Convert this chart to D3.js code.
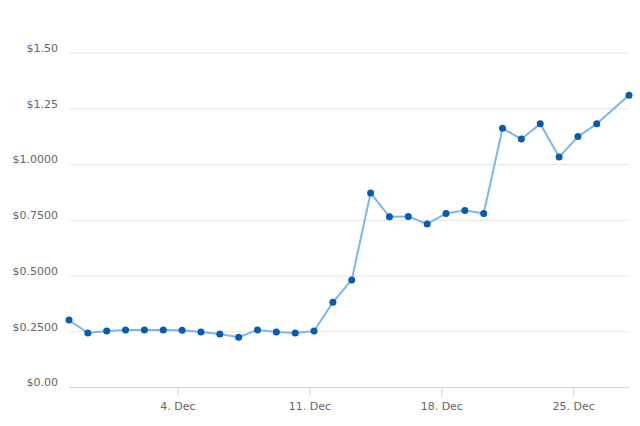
<!DOCTYPE html>
<html>
<head>
<meta charset="utf-8">
<script src="https://cdn.jsdelivr.net/npm/d3@7"></script>
<style>
  html, body { margin: 0; padding: 0; background: #fff; }
  svg { display: block; }
  .tick text { font-family: "DejaVu Sans", sans-serif; font-size: 11px; fill: #666; }
</style>
</head>
<body>
<svg id="chart"></svg>
<script>
// data
var dates = [
  "2017-11-28T06:00", "2017-11-29T06:00", "2017-11-30T06:00", "2017-12-01T06:00",
  "2017-12-02T06:00", "2017-12-03T06:00", "2017-12-04T06:00", "2017-12-05T06:00",
  "2017-12-06T06:00", "2017-12-07T06:00", "2017-12-08T06:00", "2017-12-09T06:00",
  "2017-12-10T06:00", "2017-12-11T06:00", "2017-12-12T06:00", "2017-12-13T06:00",
  "2017-12-14T06:00", "2017-12-15T06:00", "2017-12-16T06:00", "2017-12-17T06:00",
  "2017-12-18T06:00", "2017-12-19T06:00", "2017-12-20T06:00", "2017-12-21T06:00",
  "2017-12-22T06:00", "2017-12-23T06:00", "2017-12-24T06:00", "2017-12-25T06:00",
  "2017-12-26T06:00", "2017-12-27T23:00"
];
var prices = [
  0.300, 0.242, 0.251, 0.256, 0.256, 0.256, 0.255, 0.247,
  0.238, 0.223, 0.256, 0.247, 0.242, 0.251, 0.380, 0.480,
  0.870, 0.763, 0.765, 0.731, 0.778, 0.792, 0.778, 1.160,
  1.112, 1.180, 1.031, 1.123, 1.180, 1.308
];
var yTicks = [0, 0.25, 0.5, 0.75, 1.0, 1.25, 1.5];
var yTickLabels = ["$0.00", "$0.2500", "$0.5000", "$0.7500", "$1.0000", "$1.25", "$1.50"];
var xTicks = ["2017-12-04", "2017-12-11", "2017-12-18", "2017-12-25"];
var xTickLabels = ["4. Dec", "11. Dec", "18. Dec", "25. Dec"];

var W = 640, H = 426;
var margin = {top: 52.5, right: 11, bottom: 39, left: 69},
    width = W - margin.left - margin.right,
    height = H - margin.top - margin.bottom;

var parse = d3.timeParse("%Y-%m-%dT%H:%M");
var parseDay = d3.timeParse("%Y-%m-%d");
var data = dates.map(function(d, i) { return {date: parse(d), value: prices[i]}; });

var svg = d3.select("#chart")
    .attr("width", W)
    .attr("height", H)
  .append("g")
    .attr("transform", "translate(" + margin.left + "," + margin.top + ")");

var x = d3.scaleTime()
    .domain(d3.extent(data, function(d) { return d.date; }))
    .range([0, width]);
var y = d3.scaleLinear()
    .domain([0, 1.5])
    .range([height, 0]);

// y axis + grid
var yAxis = svg.append("g")
    .call(d3.axisLeft(y)
      .tickValues(yTicks)
      .tickSize(-width)
      .tickPadding(11)
      .tickFormat(function(d, i) { return yTickLabels[i]; }));
yAxis.select(".domain").remove();
yAxis.selectAll(".tick line").attr("stroke", "#e6e6e6");
yAxis.selectAll(".tick text").attr("dy", "-0.1em");

// x axis
var xAxis = svg.append("g")
    .attr("transform", "translate(0," + height + ")")
    .call(d3.axisBottom(x)
      .tickValues(xTicks.map(parseDay))
      .tickSize(10)
      .tickSizeOuter(0)
      .tickPadding(5)
      .tickFormat(function(d, i) { return xTickLabels[i]; }));
xAxis.select(".domain").attr("stroke", "#ccd6eb");
xAxis.selectAll(".tick line").attr("stroke", "#ccd6eb");

// line
var line = d3.line()
    .x(function(d) { return x(d.date); })
    .y(function(d) { return y(d.value); });

svg.append("path")
    .datum(data)
    .attr("fill", "none")
    .attr("stroke", "#7cb5ec")
    .attr("stroke-width", 2)
    .attr("stroke-linejoin", "round")
    .attr("d", line);

svg.append("g")
  .selectAll("circle")
  .data(data)
  .enter()
  .append("circle")
    .attr("cx", function(d) { return x(d.date); })
    .attr("cy", function(d) { return y(d.value); })
    .attr("r", 3.5)
    .attr("fill", "#0b5ba8");
</script>
</body>
</html>
